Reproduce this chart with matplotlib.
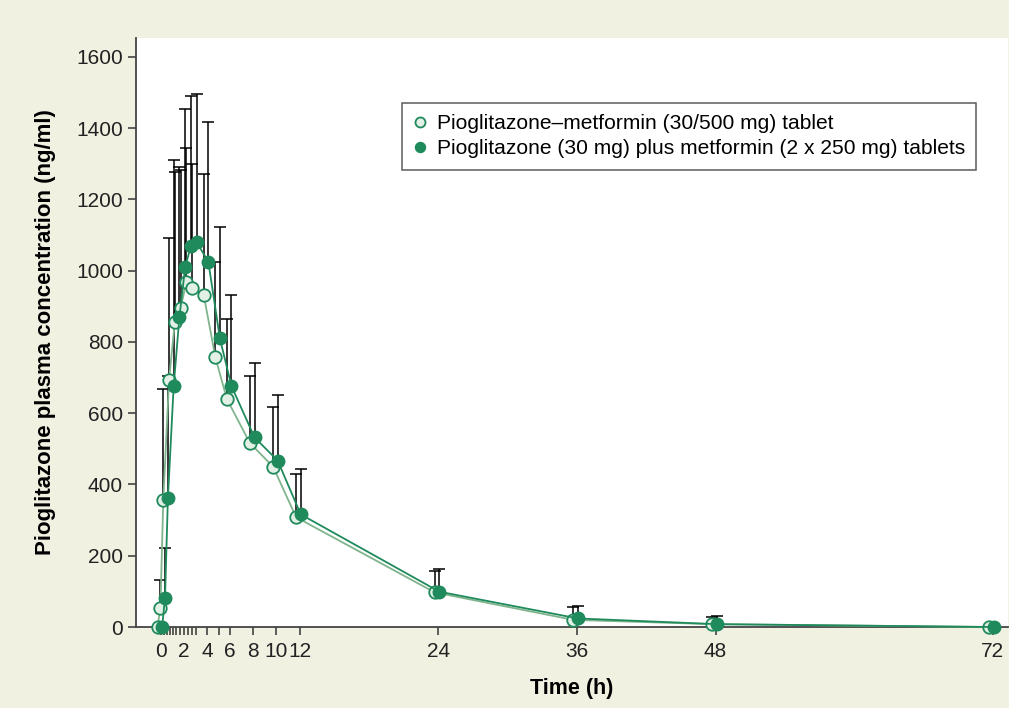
import numpy as np
import matplotlib
matplotlib.use("Agg")
import matplotlib.pyplot as plt

plt.rcParams['font.family'] = ['Liberation Sans', 'DejaVu Sans']

# Datos
tiempo = [0, 0.25, 0.5, 1, 1.5, 2, 2.5, 3, 4, 5, 6, 8, 10, 12, 24, 36, 48, 72]

# Pioglitazona-metformina tableta combinada
media_combo = [0, 54, 356, 693, 856, 895, 968, 952, 932, 758, 640, 516, 450, 308, 97, 20, 8, 0]
tope_combo = [0, 132, 667, 1093, 1276, 1283, 1344, 1299, 1271, 1024, 865, 705, 618, 429, 158, 55, 27, 0]

# Pioglitazona + metformina por separado
media_sep = [0, 82, 361, 676, 871, 1011, 1070, 1079, 1025, 810, 676, 532, 467, 316, 99, 24, 8, 0]
tope_sep = [0, 223, 704, 1311, 1290, 1453, 1491, 1496, 1416, 1123, 932, 741, 651, 443, 162, 60, 31, 0]

ticks_mayores = [0, 2, 4, 6, 8, 10, 12, 24, 36, 48, 72]
ticks_menores = [0.25, 0.5, 0.75, 1, 1.33, 1.67, 2.33, 2.67, 3, 5]

etiqueta_combo = 'Pioglitazone\u2013metformin (30/500 mg) tablet'
etiqueta_sep = 'Pioglitazone (30 mg) plus metformin (2 x 250 mg) tablets'

fondo = '#f1f1e2'
verde_osc = '#1f8a5c'
verde_claro = '#7fb48c'

t = np.array(tiempo, dtype=float)
t_combo = t - 0.3
t_sep = t + 0.1
sd_combo = np.array(tope_combo) - np.array(media_combo)
sd_sep = np.array(tope_sep) - np.array(media_sep)

fig = plt.figure(figsize=(10.09, 7.08), dpi=100, facecolor=fondo)
ax = fig.add_axes([0.1348, 0.1144, 0.864, 0.832])
ax.set_facecolor('white')

# Barras de error (solo hacia arriba)
ax.errorbar(t_combo, media_combo, yerr=[np.zeros_like(sd_combo), sd_combo], fmt='none',
            ecolor='black', elinewidth=1.1, capsize=4.5, capthick=1.1, zorder=2, clip_on=False)
ax.errorbar(t_sep, media_sep, yerr=[np.zeros_like(sd_sep), sd_sep], fmt='none',
            ecolor='black', elinewidth=1.1, capsize=4.5, capthick=1.1, zorder=2, clip_on=False)

ax.plot(t_combo, media_combo, '-', color=verde_claro, lw=1.3, marker='o', ms=9,
        mfc='#e2f0e6', mec=verde_osc, mew=1.3, zorder=3, clip_on=False, label=etiqueta_combo)
ax.plot(t_sep, media_sep, '-', color=verde_osc, lw=1.3, marker='o', ms=9,
        mfc=verde_osc, mec=verde_osc, zorder=4, clip_on=False, label=etiqueta_sep)

ax.set_xlim(-2.16, 73.3)
ax.set_ylim(0, 1653)
ax.set_xticks(ticks_mayores)
ax.set_xticks(ticks_menores, minor=True)
ax.set_yticks(np.arange(0, 1601, 200))
ax.tick_params(axis='both', which='both', direction='out', length=6, width=1.1,
               color='#333333', labelsize=15, labelcolor='#222222')
ax.tick_params(axis='x', which='both', pad=5)

for lado in ['top', 'right']:
    ax.spines[lado].set_visible(False)
for lado in ['left', 'bottom']:
    ax.spines[lado].set_color('#444444')
    ax.spines[lado].set_linewidth(1.3)

ax.set_xlabel('Time (h)', fontsize=15.5, fontweight='bold', labelpad=12)
ax.set_ylabel('Pioglitazone plasma concentration (ng/ml)', fontsize=16, fontweight='bold', labelpad=14)

leg = ax.legend(loc='upper left', bbox_to_anchor=(0.305, 0.89), fontsize=15.1, frameon=True,
                fancybox=False, edgecolor='#333333', handlelength=0.6, handletextpad=0.5,
                borderpad=0.55, labelspacing=0.28, markerscale=0.8, borderaxespad=0)
leg.get_frame().set_linewidth(1.1)
for h in leg.get_lines():
    h.set_linestyle('none')

fig.savefig('out.png', dpi=100, facecolor=fondo)
